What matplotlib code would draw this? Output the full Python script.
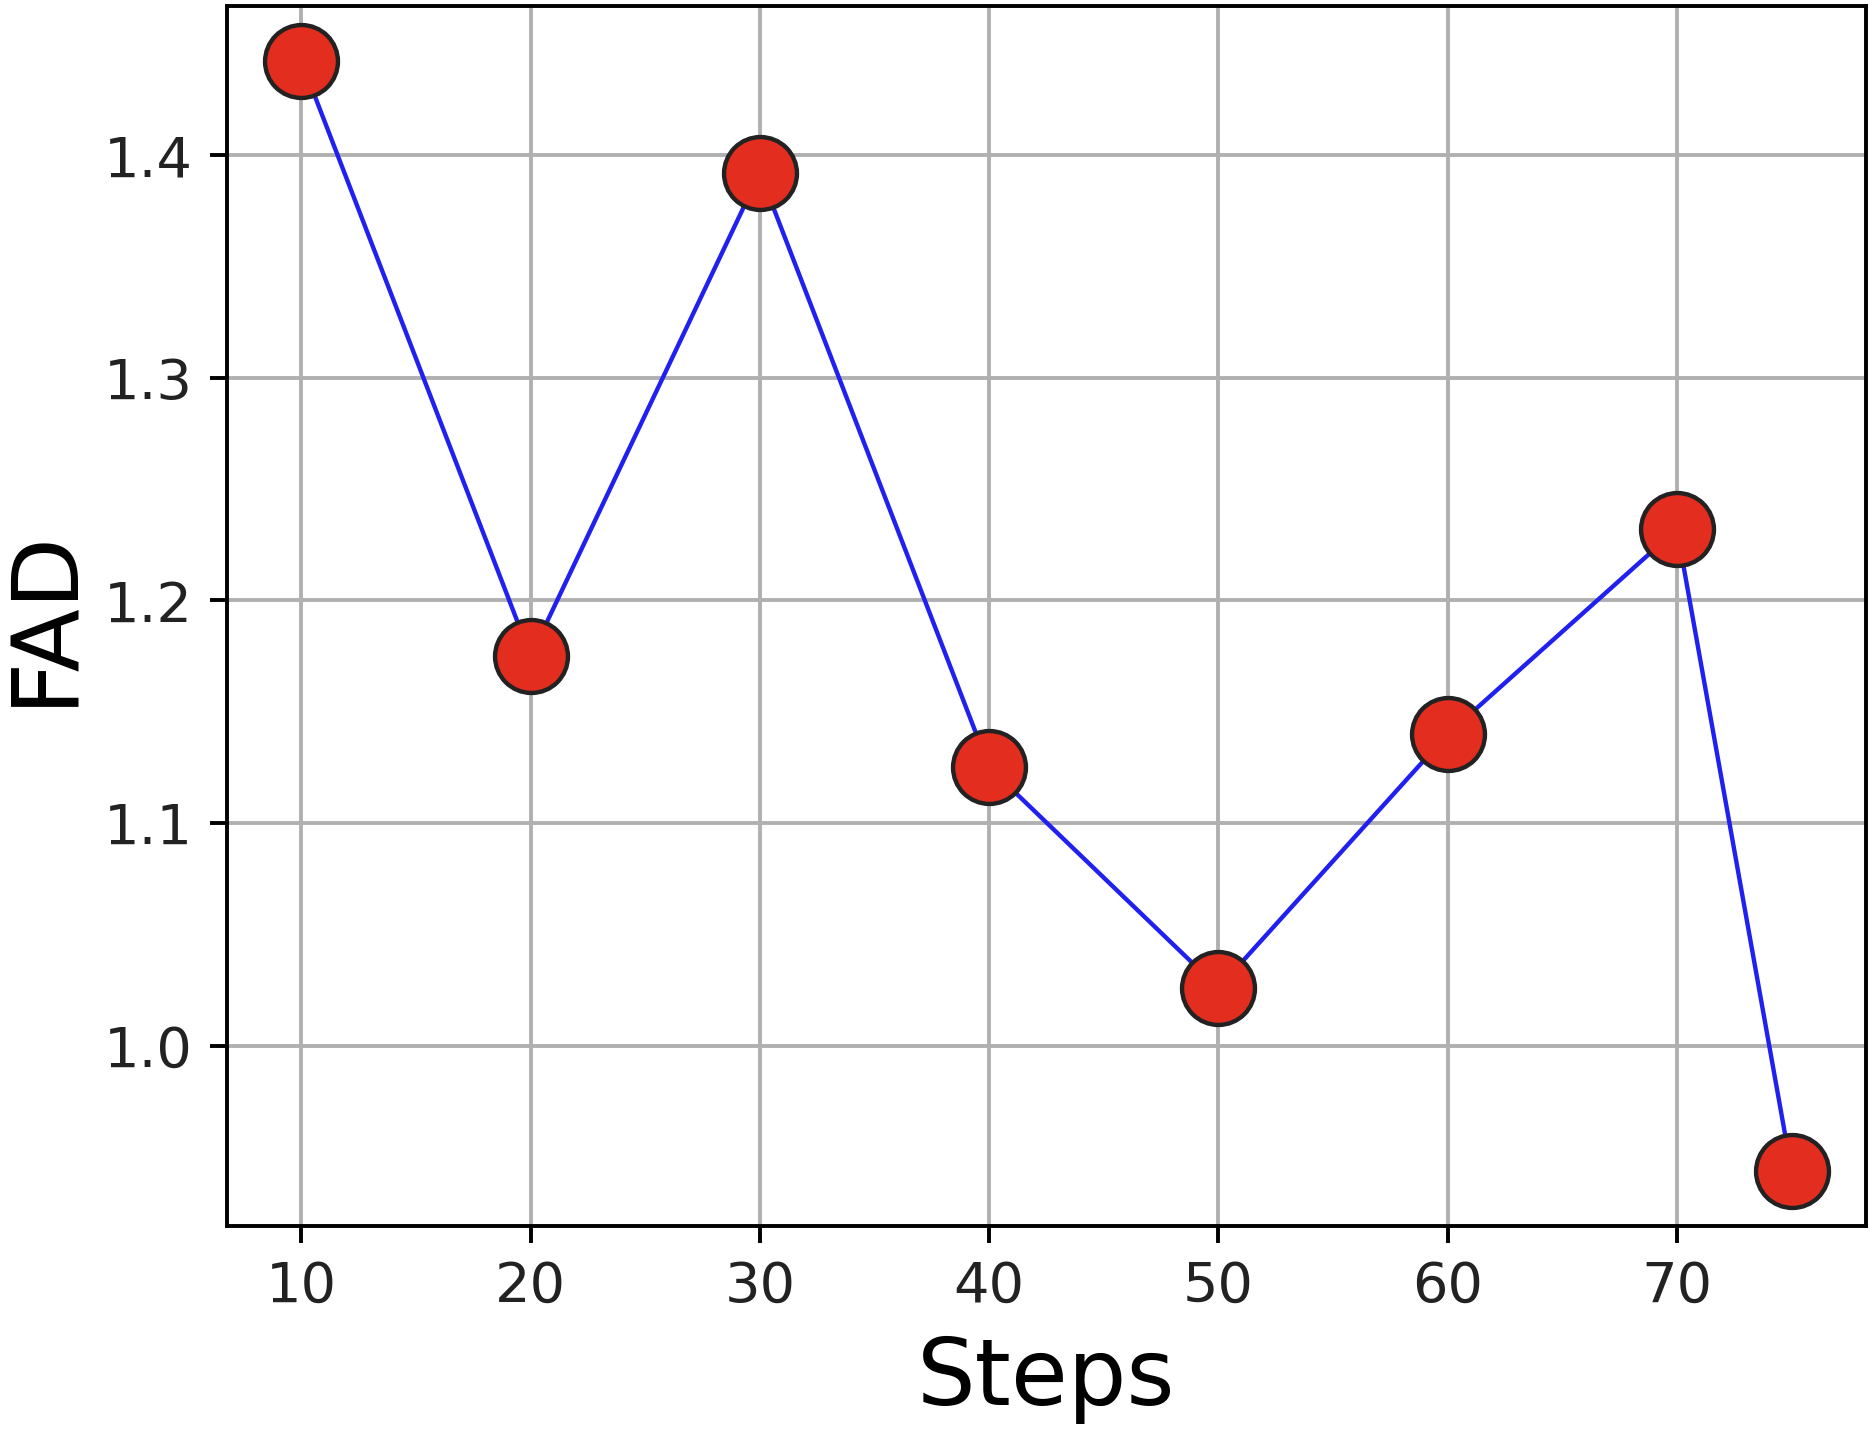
import matplotlib
matplotlib.use("Agg")
import matplotlib.pyplot as plt

steps = [10, 20, 30, 40, 50, 60, 70, 75]
fad = [1.442, 1.175, 1.392, 1.125, 1.026, 1.140, 1.232, 0.944]

fig = plt.figure(figsize=(1876 / 350, 1436 / 350), dpi=350)
ax = fig.add_axes([0.121, 0.1462, 0.8737, 0.8496])

ax.plot(steps, fad, color='#2020f0', linewidth=0.9, marker='o', markersize=15,
        markerfacecolor='#e32d1f', markeredgecolor='#222222', markeredgewidth=0.9)

ax.set_xlabel('Steps', fontsize=19)
ax.set_ylabel('FAD', fontsize=19, labelpad=3)
ax.tick_params(labelsize=11.5, labelcolor='#222222')
ax.grid(True)

fig.savefig('out.png', dpi=350)
